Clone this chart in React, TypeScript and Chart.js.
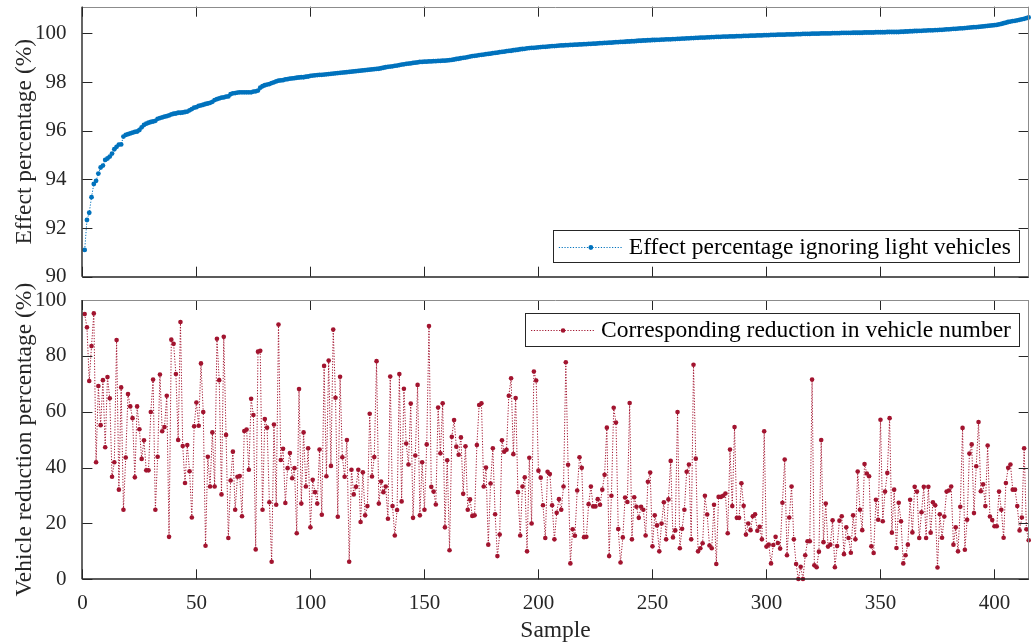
import React, { useEffect, useRef } from 'react';
import { Chart, registerables } from 'chart.js';

Chart.register(...registerables);

const FONT = "'Liberation Serif', 'Times New Roman', serif";

const sampleMax = 415;
const xTicks = [0, 50, 100, 150, 200, 250, 300, 350, 400];
const effectTicks = [90, 92, 94, 96, 98, 100];
const reductionTicks = [0, 20, 40, 60, 80, 100];

const effectLabel = 'Effect percentage ignoring light vehicles';
const reductionLabel = 'Corresponding reduction in vehicle number';
const effectAxisTitle = 'Effect percentage (%)';
const reductionAxisTitle = 'Vehicle reduction percentage (%)';
const sampleAxisTitle = 'Sample';

const effectValues = [
  91.10, 92.33, 92.63, 93.27, 93.81, 93.94, 94.24, 94.49, 94.57, 94.80,
  94.86, 94.94, 95.06, 95.24, 95.34, 95.43, 95.44, 95.76, 95.83, 95.86,
  95.89, 95.92, 95.95, 95.97, 96.03, 96.14, 96.24, 96.29, 96.33, 96.36,
  96.38, 96.41, 96.49, 96.52, 96.55, 96.58, 96.60, 96.63, 96.67, 96.70,
  96.71, 96.74, 96.74, 96.75, 96.77, 96.79, 96.84, 96.89, 96.95, 96.97,
  97.02, 97.04, 97.07, 97.10, 97.12, 97.15, 97.19, 97.26, 97.30, 97.33,
  97.36, 97.37, 97.40, 97.41, 97.50, 97.54, 97.55, 97.57, 97.58, 97.58,
  97.58, 97.58, 97.58, 97.58, 97.61, 97.62, 97.65, 97.77, 97.83, 97.87,
  97.90, 97.92, 97.96, 97.99, 98.03, 98.06, 98.07, 98.08, 98.11, 98.12,
  98.14, 98.15, 98.16, 98.18, 98.19, 98.20, 98.20, 98.22, 98.23, 98.26,
  98.27, 98.28, 98.29, 98.30, 98.30, 98.31, 98.32, 98.33, 98.34, 98.35, 98.36, 98.37, 98.38,
  98.39, 98.40, 98.41, 98.42, 98.43, 98.44, 98.45, 98.46, 98.47,
  98.48, 98.49, 98.50, 98.51, 98.52, 98.53, 98.54, 98.55,
  98.57, 98.59, 98.61, 98.63, 98.64, 98.65, 98.67, 98.68, 98.70,
  98.72, 98.73, 98.75, 98.76, 98.77, 98.79, 98.80, 98.81, 98.83,
  98.83, 98.84, 98.84, 98.85, 98.85, 98.86, 98.86, 98.87, 98.87, 98.88, 98.88, 98.89, 98.90,
  98.91, 98.93, 98.95, 98.96, 98.98, 99.00, 99.01, 99.03, 99.05,
  99.07, 99.08, 99.09, 99.11, 99.12, 99.13, 99.15, 99.16,
  99.17, 99.19, 99.20, 99.21, 99.23, 99.24, 99.25, 99.27, 99.28,
  99.29, 99.31, 99.32, 99.33, 99.35, 99.36, 99.37, 99.39, 99.40,
  99.41, 99.41, 99.42, 99.43, 99.44, 99.45, 99.45, 99.46, 99.47, 99.48, 99.48, 99.49, 99.50,
  99.51, 99.51, 99.52, 99.52, 99.53, 99.53, 99.54, 99.54, 99.55, 99.55, 99.56, 99.56, 99.57, 99.57, 99.58, 99.58, 99.59, 99.60,
  99.60, 99.61, 99.61, 99.62, 99.62, 99.63, 99.64, 99.64, 99.65, 99.65, 99.66, 99.67, 99.67, 99.68, 99.68, 99.69, 99.70,
  99.70, 99.71, 99.71, 99.72, 99.72, 99.73, 99.73, 99.74, 99.74, 99.75, 99.75, 99.76, 99.76, 99.76, 99.77, 99.77, 99.78, 99.78,
  99.79, 99.79, 99.80, 99.80, 99.81, 99.81, 99.82, 99.82, 99.83, 99.83, 99.83, 99.84, 99.84, 99.85, 99.85, 99.86, 99.86,
  99.86, 99.87, 99.87, 99.87, 99.88, 99.88, 99.88, 99.89, 99.89, 99.89, 99.90, 99.90, 99.90, 99.91, 99.91, 99.91, 99.92, 99.92,
  99.92, 99.93, 99.93, 99.93, 99.94, 99.94, 99.94, 99.95, 99.95, 99.95, 99.95, 99.96, 99.96, 99.96, 99.96, 99.97, 99.97,
  99.97, 99.98, 99.98, 99.98, 99.98, 99.99, 99.99, 99.99, 99.99, 100.00, 100.00, 100.00, 100.00, 100.00, 100.01, 100.01, 100.01, 100.01, 100.02, 100.02, 100.02, 100.02,
  100.02, 100.03, 100.03, 100.03, 100.03, 100.03, 100.04, 100.04, 100.04, 100.04, 100.04, 100.05, 100.05, 100.05, 100.05, 100.05, 100.06, 100.06, 100.06, 100.06, 100.06, 100.06,
  100.07, 100.07, 100.08, 100.08, 100.09, 100.09, 100.10, 100.10, 100.11, 100.11, 100.12, 100.12, 100.13, 100.13, 100.13, 100.14, 100.14,
  100.15, 100.15, 100.16, 100.17, 100.17, 100.18, 100.19, 100.19, 100.20, 100.21, 100.21, 100.22, 100.23,
  100.24, 100.25, 100.26, 100.26, 100.27, 100.28, 100.29, 100.30, 100.31,
  100.32, 100.33, 100.34, 100.35, 100.37,
  100.39, 100.42, 100.44, 100.47,
  100.49, 100.51, 100.52, 100.54, 100.56,
  100.58, 100.60, 100.63, 100.66,
];

const reductionValues = [
  95.0, 90.2, 71.0, 83.5, 95.2, 41.9, 69.2, 55.2, 71.3, 47.3,
  72.4, 64.8, 36.7, 41.9, 85.7, 32.1, 68.7, 24.9, 43.6, 66.3,
  61.9, 57.7, 36.5, 61.9, 53.7, 43.1, 49.8, 39.0, 39.0, 59.9,
  71.5, 24.9, 43.9, 73.3, 53.0, 54.5, 65.7, 15.2, 85.8, 84.3,
  73.5, 49.9, 92.1, 47.7, 34.5, 48.1, 38.7, 22.1, 54.8, 63.3,
  55.0, 77.3, 59.9, 12.0, 43.9, 33.2, 52.6, 33.2, 86.1, 71.3,
  30.4, 86.8, 51.7, 14.8, 35.4, 45.7, 24.9, 36.7, 37.0, 22.6,
  53.1, 53.6, 39.2, 64.6, 58.8, 10.7, 81.5, 81.8, 24.9, 57.4,
  54.3, 27.6, 6.3, 55.4, 26.7, 91.2, 42.7, 46.7, 27.3, 39.8,
  45.2, 36.2, 39.8, 16.5, 68.1, 27.1, 52.6, 33.2, 46.9, 18.6,
  35.6, 31.2, 27.1, 46.5, 23.1, 76.4, 36.9, 78.3, 40.6, 89.4,
  65.0, 22.4, 72.5, 43.7, 36.7, 49.9, 6.3, 39.2, 30.4, 33.1,
  39.2, 20.5, 38.3, 22.9, 26.2, 59.3, 36.8, 43.8, 78.1, 27.1,
  35.0, 31.2, 33.2, 21.7, 72.6, 26.2, 15.7, 24.8, 73.5, 27.9,
  68.2, 48.6, 41.1, 62.9, 22.0, 44.3, 69.6, 22.9, 41.9, 24.9,
  48.3, 90.7, 33.1, 31.4, 26.8, 61.5, 45.1, 63.0, 18.6, 42.6,
  10.4, 51.0, 57.0, 47.5, 44.6, 50.8, 30.6, 47.6, 24.9, 28.6,
  22.7, 22.9, 48.1, 62.4, 63.0, 33.2, 40.0, 12.4, 34.3, 46.9,
  23.3, 8.3, 16.0, 49.8, 45.7, 46.4, 65.7, 72.0, 44.8, 64.9,
  31.2, 15.7, 33.2, 36.5, 10.0, 43.5, 20.0, 74.4, 71.2, 38.9,
  36.4, 26.5, 14.8, 38.5, 37.7, 26.5, 14.3, 23.8, 28.7, 24.9,
  33.2, 77.7, 41.0, 5.7, 17.9, 15.6, 31.8, 43.7, 39.9, 15.1,
  15.2, 26.9, 33.2, 26.1, 26.1, 28.7, 26.7, 32.1, 37.4, 54.3,
  8.3, 29.9, 61.4, 56.1, 18.0, 6.0, 15.0, 29.3, 27.7, 63.1,
  14.3, 29.4, 26.0, 22.0, 26.0, 24.9, 15.7, 34.9, 38.2, 11.8,
  22.9, 19.3, 10.0, 20.0, 27.6, 14.3, 28.6, 42.4, 15.0, 17.5,
  59.9, 11.1, 18.1, 24.9, 38.5, 41.1, 14.3, 76.8, 43.2, 10.0,
  11.1, 12.9, 29.9, 23.2, 12.1, 11.1, 26.7, 5.5, 29.5, 29.5,
  29.9, 30.7, 16.5, 46.5, 26.2, 54.5, 22.0, 22.0, 34.4, 26.3,
  16.0, 20.0, 17.6, 22.6, 23.3, 17.4, 18.8, 14.3, 53.0, 11.7,
  12.4, 5.7, 12.3, 15.2, 13.0, 11.0, 27.4, 42.9, 8.6, 22.1,
  33.2, 14.3, 5.5, 0.1, 4.5, 0.1, 8.6, 13.6, 13.6, 71.5,
  5.0, 4.3, 9.9, 49.9, 13.3, 27.1, 11.7, 12.4, 21.1, 4.3,
  11.9, 21.0, 22.6, 9.0, 18.6, 14.8, 9.5, 22.9, 14.3, 38.6,
  24.9, 17.6, 41.3, 37.9, 36.9, 11.8, 9.4, 28.5, 21.3, 57.1,
  20.8, 31.4, 38.1, 57.7, 16.7, 32.1, 11.2, 27.4, 20.8, 5.7,
  8.6, 12.4, 28.5, 16.8, 33.1, 31.4, 14.8, 24.0, 33.1, 14.8,
  33.1, 16.7, 27.6, 26.5, 4.2, 23.3, 14.9, 22.5, 31.4, 31.8,
  33.2, 12.4, 18.6, 10.0, 26.0, 54.2, 10.6, 21.3, 45.0, 48.3,
  23.7, 40.5, 56.3, 31.5, 34.0, 26.2, 47.9, 22.5, 21.2, 19.0,
  19.0, 31.4, 24.9, 14.9, 34.5, 39.9, 41.1, 32.1, 32.1, 26.2,
  17.5, 22.1, 46.9, 17.9, 14.0,
];

const AXIS_COLOR = '#262626';
const BOX_COLOR = '#8c8c8c';

const matlabAxes = {
  id: 'matlabAxes',
  afterDatasetsDraw(chart: any, _args: any, opts: any) {
    const { ctx, chartArea } = chart;
    const { left, right, top, bottom } = chartArea;
    const xs = chart.scales.x;
    const ys = chart.scales.y;
    const tl = 10;
    ctx.save();
    ctx.lineWidth = 1;
    ctx.strokeStyle = AXIS_COLOR;
    ctx.beginPath();
    for (const v of opts.xTicks) {
      const px = Math.round(xs.getPixelForValue(v)) + 0.5;
      ctx.moveTo(px, bottom);
      ctx.lineTo(px, bottom - tl);
      ctx.moveTo(px, top);
      ctx.lineTo(px, top + tl);
    }
    for (const v of opts.yTicks) {
      const py = Math.round(ys.getPixelForValue(v)) + 0.5;
      ctx.moveTo(left, py);
      ctx.lineTo(left + tl, py);
      ctx.moveTo(right, py);
      ctx.lineTo(right - tl, py);
    }
    ctx.stroke();
    ctx.strokeStyle = BOX_COLOR;
    ctx.beginPath();
    ctx.moveTo(left, Math.round(top) + 0.5);
    ctx.lineTo(right, Math.round(top) + 0.5);
    ctx.moveTo(Math.round(right) - 0.5, top);
    ctx.lineTo(Math.round(right) - 0.5, bottom);
    ctx.stroke();
    ctx.strokeStyle = AXIS_COLOR;
    ctx.lineWidth = 1.4;
    ctx.beginPath();
    ctx.moveTo(Math.round(left), top);
    ctx.lineTo(Math.round(left), bottom);
    ctx.moveTo(left, Math.round(bottom));
    ctx.lineTo(right, Math.round(bottom));
    ctx.stroke();
    ctx.restore();
  },
};

const insideLegend = {
  id: 'insideLegend',
  afterDraw(chart: any, _args: any, opts: any) {
    const { ctx, chartArea } = chart;
    const ds = chart.data.datasets[0];
    ctx.save();
    ctx.font = `${opts.fontSize}px ${FONT}`;
    const tw = ctx.measureText(ds.label).width;
    const w = tw + 76 + 9;
    const h = opts.height;
    const x = chartArea.right - opts.marginRight - w;
    const y = opts.anchor === 'bottom' ? chartArea.bottom - opts.marginY - h : chartArea.top + opts.marginY;
    ctx.fillStyle = '#ffffff';
    ctx.fillRect(x, y, w, h);
    ctx.strokeStyle = AXIS_COLOR;
    ctx.lineWidth = 1;
    ctx.strokeRect(Math.round(x) + 0.5, Math.round(y) + 0.5, Math.round(w) - 1, Math.round(h) - 1);
    const cy = Math.round(y + h / 2) + 0.5;
    ctx.strokeStyle = ds.borderColor;
    ctx.setLineDash([1.2, 1.6]);
    ctx.beginPath();
    ctx.moveTo(x + 6, cy);
    ctx.lineTo(x + 70, cy);
    ctx.stroke();
    ctx.setLineDash([]);
    ctx.fillStyle = ds.pointBackgroundColor;
    ctx.beginPath();
    ctx.arc(x + 38, cy, ds.pointRadius, 0, Math.PI * 2);
    ctx.fill();
    ctx.fillStyle = '#000000';
    ctx.textAlign = 'left';
    ctx.textBaseline = 'middle';
    ctx.fillText(ds.label, x + 76, y + h / 2 + 1);
    ctx.restore();
  },
};

function setTicks(values: number[]) {
  return (scale: any) => {
    scale.ticks = values.map((v) => ({ value: v }));
  };
}

function makeConfig(opts: {
  label: string;
  values: number[];
  color: string;
  radius: number;
  yMin: number;
  yMax: number;
  yTicks: number[];
  yTitle: string;
  showX: boolean;
  padTop: number;
  xHeight: number;
  legend: any;
}) {
  return {
    type: 'line',
    data: {
      datasets: [
        {
          label: opts.label,
          data: opts.values.map((v, i) => ({ x: i + 1, y: v })),
          borderColor: opts.color,
          backgroundColor: opts.color,
          pointBackgroundColor: opts.color,
          pointBorderColor: opts.color,
          pointBorderWidth: 0,
          pointRadius: opts.radius,
          pointHoverRadius: opts.radius,
          borderWidth: 1,
          borderDash: [1.2, 1.6],
          tension: 0,
          fill: false,
          clip: 6,
        },
      ],
    },
    options: {
      animation: false,
      responsive: false,
      maintainAspectRatio: false,
      events: [],
      layout: { padding: { top: opts.padTop, right: 0.5, left: 0, bottom: 0 } },
      plugins: {
        legend: { display: false },
        tooltip: { enabled: false },
        insideLegend: opts.legend,
        matlabAxes: { xTicks, yTicks: opts.yTicks },
      },
      scales: {
        x: {
          type: 'linear',
          min: 0,
          max: sampleMax,
          grid: { display: false },
          border: { display: false },
          afterBuildTicks: setTicks(xTicks),
          afterFit: (s: any) => {
            s.height = opts.xHeight;
            s.paddingLeft = 0;
            s.paddingRight = 0;
          },
          ticks: {
            display: opts.showX,
            color: AXIS_COLOR,
            font: { family: FONT, size: 21 },
            padding: 4,
            maxRotation: 0,
            autoSkip: false,
          },
          title: {
            display: opts.showX,
            text: sampleAxisTitle,
            color: AXIS_COLOR,
            font: { family: FONT, size: 23.5, lineHeight: 1.1 },
            padding: { top: 0, bottom: 0 },
          },
        },
        y: {
          type: 'linear',
          min: opts.yMin,
          max: opts.yMax,
          grid: { display: false },
          border: { display: false },
          afterBuildTicks: setTicks(opts.yTicks),
          afterFit: (s: any) => {
            s.width = 82.4;
            s.paddingTop = 0;
            s.paddingBottom = 0;
          },
          ticks: {
            color: AXIS_COLOR,
            font: { family: FONT, size: 21 },
            padding: 8,
            autoSkip: false,
          },
          title: {
            display: true,
            text: opts.yTitle,
            color: AXIS_COLOR,
            font: { family: FONT, size: 23.5 },
            padding: { top: 10.5, bottom: 0 },
          },
        },
      },
    },
    plugins: [matlabAxes, insideLegend],
  };
}

export default function App() {
  const topRef = useRef<HTMLCanvasElement>(null);
  const bottomRef = useRef<HTMLCanvasElement>(null);

  useEffect(() => {
    const top = new Chart(
      topRef.current as HTMLCanvasElement,
      makeConfig({
        label: effectLabel,
        values: effectValues,
        color: '#0072BD',
        radius: 2.4,
        yMin: 90,
        yMax: 101.1,
        yTicks: effectTicks,
        yTitle: effectAxisTitle,
        showX: false,
        padTop: 6.7,
        xHeight: 13.3,
        legend: { fontSize: 23.5, height: 33, marginRight: 8.8, marginY: 13.5, anchor: 'bottom' },
      }) as any
    );
    const bottom = new Chart(
      bottomRef.current as HTMLCanvasElement,
      makeConfig({
        label: reductionLabel,
        values: reductionValues,
        color: '#A2142F',
        radius: 2.3,
        yMin: 0,
        yMax: 100,
        yTicks: reductionTicks,
        yTitle: reductionAxisTitle,
        showX: true,
        padTop: 35,
        xHeight: 64.7,
        legend: { fontSize: 23.5, height: 34, marginRight: 8.8, marginY: 12.7, anchor: 'top' },
      }) as any
    );
    return () => {
      top.destroy();
      bottom.destroy();
    };
  }, []);

  return (
    <div
      style={{
        position: 'fixed',
        left: 0,
        top: 0,
        width: 1031,
        height: 644,
        background: '#ffffff',
        overflow: 'hidden',
      }}
    >
      <canvas
        ref={topRef}
        width={1031}
        height={290}
        style={{ position: 'absolute', left: 0, top: 0, width: 1031, height: 290, display: 'block' }}
      />
      <canvas
        ref={bottomRef}
        width={1031}
        height={379}
        style={{ position: 'absolute', left: 0, top: 265, width: 1031, height: 379, display: 'block' }}
      />
    </div>
  );
}
